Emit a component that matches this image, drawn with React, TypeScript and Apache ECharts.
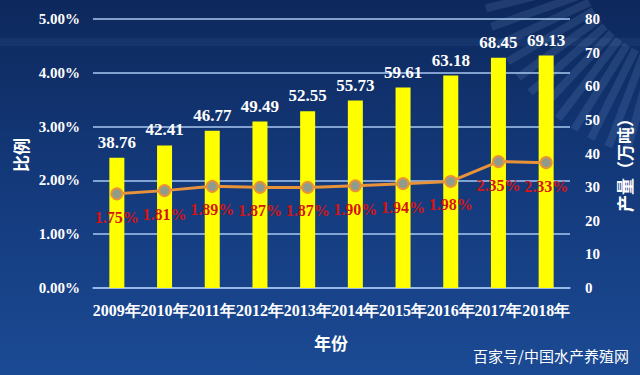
import React, { useEffect, useRef } from "react";
import * as echarts from "echarts";

const years = ["2009年", "2010年", "2011年", "2012年", "2013年", "2014年", "2015年", "2016年", "2017年", "2018年"];
const output = [38.76, 42.41, 46.77, 49.49, 52.55, 55.73, 59.61, 63.18, 68.45, 69.13];
const ratio = [1.75, 1.81, 1.89, 1.87, 1.87, 1.9, 1.94, 1.98, 2.35, 2.33];

const serif = "Liberation Serif";
const cjk = "Noto Sans CJK SC";

export default function App() {
  const ref = useRef<HTMLDivElement>(null);
  useEffect(() => {
    if (!ref.current) return;
    const chart = echarts.init(ref.current, null, { renderer: "svg" });
    const stripes: any[] = [];
    for (let i = 0; i < 14; i++) {
      const deg = 100 + i * 5.5;
      const a = -deg * Math.PI / 180;
      stripes.push({
        type: "rect",
        x: 680,
        y: -40,
        rotation: a,
        shape: { x: 100, y: -4, width: 100, height: 8 },
        style: { fill: "rgba(150,185,235,0.14)" },
        silent: true,
        z: -1,
      });
    }
    chart.setOption({
      animation: false,
      backgroundColor: {
        type: "linear", x: 0, y: 0, x2: 0, y2: 1,
        colorStops: [
          { offset: 0, color: "#0d285c" },
          { offset: 0.5, color: "#143a7c" },
          { offset: 1, color: "#1b4a94" },
        ],
      },
      grid: { left: 93, right: 70, top: 19, bottom: 87 },
      xAxis: {
        type: "category",
        data: years,
        axisLine: { lineStyle: { color: "#9cc0ee", width: 1.5 } },
        axisTick: { show: false },
        axisLabel: { color: "#ffffff", fontFamily: serif, fontWeight: "bold", fontSize: 16, margin: 14, interval: 0 },
      },
      yAxis: [
        {
          type: "value", min: 0, max: 5, interval: 1,
          axisLine: { show: false }, axisTick: { show: false },
          splitLine: { lineStyle: { color: "#a8c8f0", width: 1.5 } },
          axisLabel: { color: "#ffffff", fontFamily: serif, fontWeight: "bold", fontSize: 15, margin: 13, formatter: (v: number) => v.toFixed(2) + "%" },
        },
        {
          type: "value", min: 0, max: 80, interval: 10, position: "right",
          axisLine: { show: false }, axisTick: { show: false }, splitLine: { show: false },
          axisLabel: { color: "#ffffff", fontFamily: serif, fontWeight: "bold", fontSize: 15, margin: 15 },
        },
      ],
      series: [
        {
          type: "bar", yAxisIndex: 1, data: output, barWidth: 15,
          itemStyle: { color: "#ffff00" },
          label: { show: true, position: "top", distance: 7, color: "#ffffff", fontFamily: serif, fontWeight: "bold", fontSize: 17 },
        },
        {
          type: "line", yAxisIndex: 0, data: ratio,
          lineStyle: { color: "#e8923a", width: 3 },
          symbol: "circle", symbolSize: 11,
          itemStyle: { color: "#8f9c8c", borderColor: "#e8923a", borderWidth: 2 },
          label: { show: true, position: "bottom", distance: 9, color: "#d41414", fontFamily: serif, fontWeight: "bold", fontSize: 16, formatter: (p: any) => p.value.toFixed(2) + "%" },
          z: 5,
        },
      ],
      graphic: [
        ...stripes,
        { type: "rect", shape: { x: 0, y: 38, width: 640, height: 8 }, style: { fill: "rgba(120,160,220,0.08)" }, silent: true, z: -1 },
        { type: "text", x: 20, y: 155, rotation: Math.PI / 2, style: { text: "比例", fill: "#ffffff", font: `bold 17px ${cjk}`, textAlign: "center", textVerticalAlign: "middle" } },
        { type: "text", x: 624, y: 161, rotation: Math.PI / 2, style: { text: "产量（万吨）", fill: "#ffffff", font: `bold 17px ${cjk}`, textAlign: "center", textVerticalAlign: "middle" } },
        { type: "text", x: 331, y: 342, style: { text: "年份", fill: "#ffffff", font: `bold 17px ${cjk}`, textAlign: "center", textVerticalAlign: "middle" } },
        { type: "text", x: 629, y: 355, style: { text: "百家号/中国水产养殖网", fill: "#ffffff", font: `15px ${cjk}`, textAlign: "right", textVerticalAlign: "middle" } },
      ],
    });
    return () => chart.dispose();
  }, []);
  return <div ref={ref} style={{ width: 640, height: 375, position: "absolute", left: 0, top: 0 }} />;
}
